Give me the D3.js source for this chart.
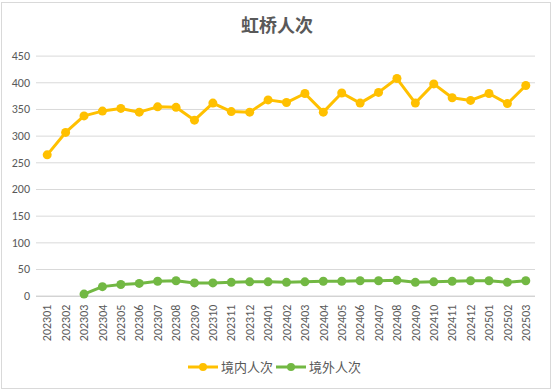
<!DOCTYPE html>
<html>
<head>
<meta charset="utf-8">
<script src="https://cdn.jsdelivr.net/npm/d3@7"></script>
<style>
  body { margin: 0; background: #fff; }
  svg { display: block; font-family: "Noto Sans CJK SC", "Noto Sans", sans-serif; }
</style>
</head>
<body>
<svg id="chart" width="554" height="392"></svg>
<script>
const months = ["202301","202302","202303","202304","202305","202306","202307","202308","202309",
  "202310","202311","202312","202401","202402","202403","202404","202405","202406","202407",
  "202408","202409","202410","202411","202412","202501","202502","202503"];
// 境内人次
const domestic = [264,306,337,346,351,344,354,353,329,361,345,344,367,362,379,344,380,361,381,
  407,361,397,371,366,379,360,394];
// 境外人次 (前两个月无数据)
const foreign = [null,null,3,17,21,23,27,28,24,24,25,26,26,25,26,27,27,28,28,29,25,26,27,28,28,25,28];
const yTicks = [0,50,100,150,200,250,300,350,400,450];
const seriesNames = ["境内人次", "境外人次"];
const colors = ["#FFC000", "#72B843"];

const svg = d3.select("#chart"),
  margin = {left: 38, right: 19, top: 56, bottom: 96},
  width = 554, height = 392,
  innerW = width - margin.left - margin.right;

// 图表外框
svg.append("rect")
  .attr("x", 1.5).attr("y", 2.5).attr("width", 549).attr("height", 386)
  .attr("fill", "#fff").attr("stroke", "#D9D9D9");

const x = d3.scaleBand().domain(months).range([margin.left, width - margin.right]);
const y = d3.scaleLinear().domain([0, 450]).range([295.7, 55.6]);

// 标题
svg.append("text")
  .attr("x", 277).attr("y", 32)
  .attr("text-anchor", "middle")
  .style("font-size", "18px").style("font-weight", "bold")
  .style("fill", "#595959")
  .text("虹桥人次");

// 网格线 + y轴
const yAxis = svg.append("g")
  .attr("transform", `translate(${margin.left - 2},0)`)
  .call(d3.axisLeft(y).tickValues(yTicks).tickSize(-(innerW + 2)).tickPadding(6));
yAxis.select(".domain").remove();
yAxis.selectAll(".tick line").attr("stroke", "#D9D9D9");
yAxis.selectAll(".tick:first-of-type line").attr("stroke", "#BFBFBF");
yAxis.selectAll("text").style("font-size", "12px").style("fill", "#595959")
  .style("font-family", "Calibri, Carlito, 'Liberation Sans', sans-serif");

// x轴标签
const xAxis = svg.append("g")
  .attr("transform", `translate(0,${y(0)})`)
  .call(d3.axisBottom(x).tickSize(0).tickPadding(0));
xAxis.select(".domain").remove();
xAxis.selectAll("text")
  .attr("transform", "rotate(-90)")
  .attr("x", -9).attr("y", 0).attr("dy", "0.35em")
  .attr("text-anchor", "end")
  .style("font-size", "12px").style("fill", "#595959")
  .style("font-family", "Calibri, Carlito, 'Liberation Sans', sans-serif");

const cx = (d, i) => x(months[i]) + x.bandwidth() / 2;

[domestic, foreign].forEach((vals, k) => {
  const line = d3.line()
    .defined(d => d != null)
    .x(cx)
    .y(d => y(d));
  svg.append("path")
    .datum(vals)
    .attr("d", line)
    .attr("fill", "none")
    .attr("stroke", colors[k])
    .attr("stroke-width", 3)
    .attr("stroke-linejoin", "round")
    .attr("stroke-linecap", "round");
  svg.append("g")
    .selectAll("circle")
    .data(vals.map((v, i) => ({v, i})).filter(d => d.v != null))
    .enter()
    .append("circle")
    .attr("cx", d => cx(d.v, d.i))
    .attr("cy", d => y(d.v))
    .attr("r", 4.5)
    .attr("fill", colors[k]);
});

// 图例
const legend = svg.append("g").attr("transform", "translate(188,367)");
const legendX = [0, 88];
seriesNames.forEach((name, k) => {
  const g = legend.append("g").attr("transform", `translate(${legendX[k]},0)`);
  g.append("line").attr("x1", 0).attr("x2", 30).attr("y1", 0).attr("y2", 0)
    .attr("stroke", colors[k]).attr("stroke-width", 3);
  g.append("circle").attr("cx", 15).attr("cy", 0).attr("r", 4).attr("fill", colors[k]);
  g.append("text").attr("x", 33).attr("y", 0).attr("dy", "0.35em")
    .style("font-size", "13px").style("fill", "#595959").text(name);
});
</script>
</body>
</html>
